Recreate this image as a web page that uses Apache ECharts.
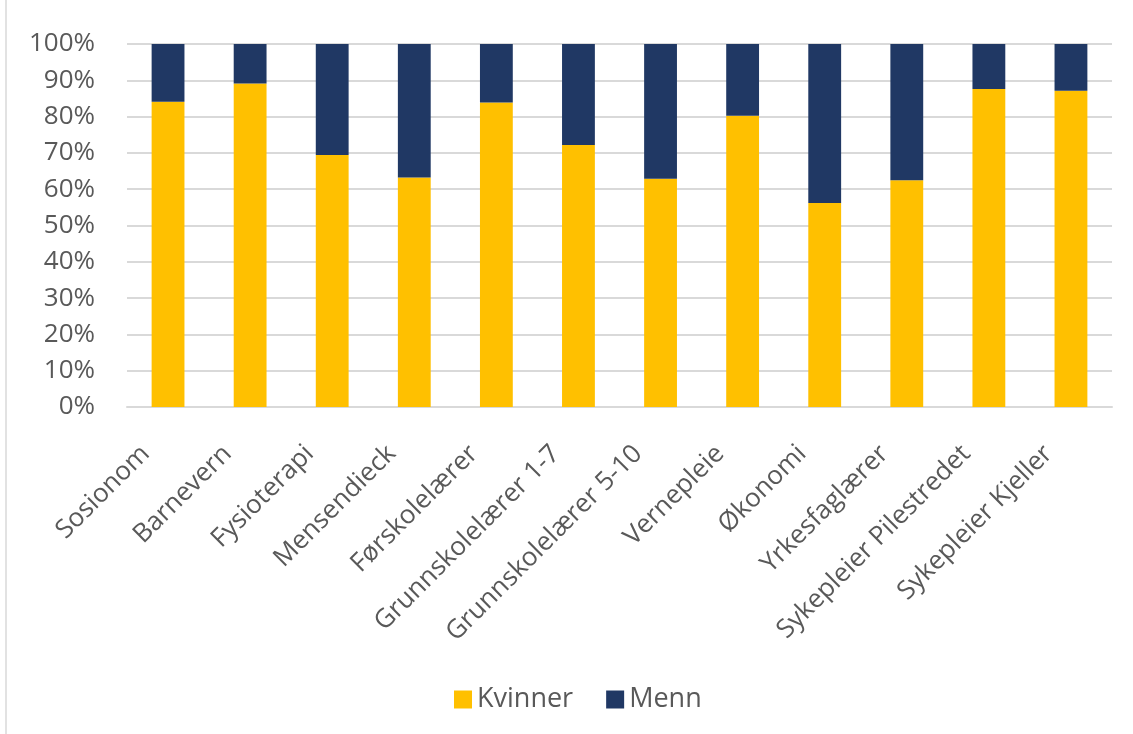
<!DOCTYPE html>
<html>
<head>
<meta charset="utf-8">
<script src="https://cdn.jsdelivr.net/npm/echarts@6/dist/echarts.min.js"></script>
<style>
  html, body { margin: 0; padding: 0; background: #fff; }
  #chart { width: 1133px; height: 734px; }
</style>
</head>
<body>
<div id="chart"></div>
<script>
// studieprogram
var categories = ['Sosionom', 'Barnevern', 'Fysioterapi', 'Mensendieck', 'Førskolelærer',
    'Grunnskolelærer 1-7', 'Grunnskolelærer 5-10', 'Vernepleie', 'Økonomi',
    'Yrkesfaglærer', 'Sykepleier Pilestredet', 'Sykepleier Kjeller'];
// andel kvinner (%)
var kvinner = [84.1, 89.1, 69.4, 63.2, 83.9, 72.2, 62.9, 80.2, 56.2, 62.5, 87.6, 87.1];
// andel menn (%) = resten
var menn = [15.9, 10.9, 30.6, 36.8, 16.1, 27.8, 37.1, 19.8, 43.8, 37.5, 12.4, 12.9];

var font = 'Open Sans';
var myChart = echarts.init(document.getElementById('chart'));
var option = {
    animation: false,
    color: ['#FFC000', '#203864'],
    textStyle: { fontFamily: font },
    grid: {
        left: 127,
        right: 21,
        top: 44,
        bottom: 327
    },
    legend: {
        bottom: 16,
        left: 449,
        itemWidth: 18,
        itemHeight: 18,
        itemGap: 33,
        icon: 'rect',
        textStyle: { fontSize: 27, color: '#595959', fontFamily: font },
        data: ['Kvinner', 'Menn']
    },
    xAxis: {
        type: 'category',
        data: categories,
        axisTick: { show: false },
        axisLine: { lineStyle: { color: '#d9d9d9', width: 2 } },
        axisLabel: {
            rotate: 45,
            interval: 0,
            fontSize: 26,
            color: '#595959',
            margin: 20,
            padding: [0, 32, 0, 0],
            fontFamily: font
        }
    },
    yAxis: {
        type: 'value',
        min: 0,
        max: 100,
        interval: 10,
        axisLine: { show: false },
        axisTick: { show: false },
        splitLine: { lineStyle: { color: '#d9d9d9', width: 2 } },
        axisLabel: {
            formatter: '{value}%',
            fontSize: 26,
            color: '#595959',
            margin: 32,
            fontFamily: font
        }
    },
    graphic: [{
        type: 'line',
        shape: { x1: 6, y1: 0, x2: 6, y2: 734 },
        style: { stroke: '#d9d9d9', lineWidth: 1.5 }
    }],
    series: [
        {
            name: 'Kvinner',
            type: 'bar',
            stack: 'total',
            barWidth: '40%',
            data: kvinner
        },
        {
            name: 'Menn',
            type: 'bar',
            stack: 'total',
            barWidth: '40%',
            data: menn
        }
    ]
};
myChart.setOption(option);
</script>
</body>
</html>
